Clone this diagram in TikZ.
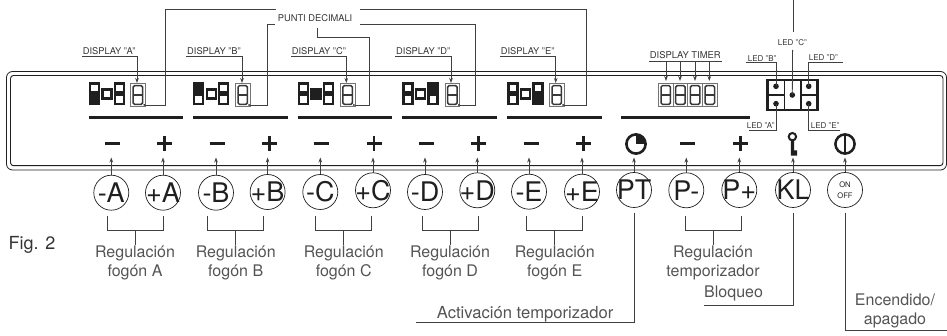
\documentclass[tikz,border=0pt]{standalone}
\usepackage{fontspec}
\setmainfont{TeX Gyre Heros}
\usetikzlibrary{arrows.meta}
\definecolor{ink}{gray}{0.12}
\definecolor{wire}{gray}{0.25}
\definecolor{soft}{gray}{0.33}
\newcommand{\fsz}[1]{\fontsize{#1}{#1}\selectfont}
\newcommand{\eightin}[1]{%
  \draw[black!78,line width=1.5pt,rounded corners=1.5pt] ([shift={(-4.7,-9.4)}]#1.center) rectangle ([shift={(4.7,9.4)}]#1.center);
  \draw[black!78,line width=1.5pt] ([shift={(-4.7,0)}]#1.center) -- ([shift={(4.7,0)}]#1.center);
}
\tikzset{
  x=1pt,y=-1pt,
  wirel/.style={draw=wire,line width=.8pt},
  arr/.style={wirel,-{Stealth[length=5pt,width=3.6pt]}},
  sqr/.style={draw=ink,line width=2.4pt,minimum size=9pt,inner sep=0pt,outer sep=0pt,fill=white},
  digitbox/.style={draw=black!55,line width=.8pt,minimum width=14.7pt,minimum height=23.4pt,inner sep=0pt,outer sep=0pt},
  bar/.style={draw=ink,line width=2.8pt},
  sym/.style={draw=ink,line width=2.6pt},
  btn/.style={circle,draw=ink,line width=.7pt,minimum size=35pt,inner sep=0pt,outer sep=0pt,text=ink,font=\fsz{27}},
  captext/.style={anchor=base,inner sep=0pt,text=soft,font=\fsz{16}},
  tinytext/.style={anchor=base west,inner sep=0pt,text=ink!90,font=\fsz{9.3}},
  ledt/.style={anchor=base west,inner sep=0pt,text=ink!90,font=\fsz{8}},
}
\begin{document}
\begin{tikzpicture}
\useasboundingbox (0,0) rectangle (947,336);
% panel
\draw[ink,line width=.8pt,rounded corners=6pt] (6.5,71.5) rectangle (946.5,170);
\draw[ink,line width=.9pt,rounded corners=3pt] (10.5,75.5) rectangle (943,165.7);
% display clusters
\foreach \n/\x/\fx/\fy/\lx/\ly/\dx/\ax in {
  A/88.5/5.7/99.3/82.7/137/130.5/137,
  B/193/5.7/88.1/187/242/235.3/242,
  C/297.7/18.3/94/291.7/346.3/340.2/346.3,
  D/402.3/30.7/88.1/396/451/445/451,
  E/507.3/30.7/99.3/500.7/555.7/549.3/555.7}{
  \node[sqr] (s1\n) at (\x+5.7,88.1) {};
  \node[sqr] (s2\n) at (\x+5.7,99.3) {};
  \node[sqr] (s3\n) at (\x+18.3,94) {};
  \node[sqr] (s4\n) at (\x+30.7,88.1) {};
  \node[sqr] (s5\n) at (\x+30.7,99.3) {};
  \node[sqr,fill=ink] (sf\n) at (\x+\fx,\x*0+\fy) {};
  \node[digitbox] (d\n) at (\dx+7.4,95) {};
  \eightin{d\n}
  \fill[ink] ([shift={(-1,-1.7)}]d\n.south east) circle (1pt);
  \draw[bar] (\x,117.5) -- (\x+94.5,117.5);
  \node[tinytext] (l\n) at (\lx,55) {DISPLAY "\n"};
  \coordinate (lw\n) at (\lx-.7,56.7);
  \coordinate (le\n) at (\ax,83);
  \draw[arr] (lw\n) -| (le\n);
}
\draw[bar] (621,117.5) -- (750,117.5);
% punti decimali
\node[tinytext] (punti) at (277.7,21.5) {PUNTI DECIMALI};
\coordinate (pa) at (275.7,9.7);
\coordinate (pb) at (275,24.7);
\coordinate (pc) at (317,28);
\coordinate (pd) at (360,24.7);
\coordinate (pe) at (360,9.7);
\draw[wirel] ([yshift=1.7pt]dA.south east) -| (165.3,9.7) -- (pa);
\draw[wirel] ([yshift=1.7pt]dB.south east) -| (267.7,24.7) -- (pb);
\draw[wirel] ([yshift=1.7pt]dC.south east) -| (369.3,37.7) -| (pc);
\draw[wirel] ([yshift=1.7pt]dD.south east) -| (475,24.7) -- (pd);
\draw[wirel] ([yshift=1.7pt]dE.south east) -| (586,9.7) -- (pe);
% timer display
\node[tinytext,font=\fsz{9.4}] (ltimer) at (649.7,59) {DISPLAY TIMER};
\draw[wirel] (649,61.3) -- (721.7,61.3);
\foreach \i/\x/\a in {1/665.7/666,2/680.4/680,3/695.1/695,4/709.8/709.3}{
  \node[digitbox] (t\i) at (\x,95) {};
  \eightin{t\i}
  \coordinate (tl\i) at (\a,61.3);
  \draw[arr] (tl\i) -- (\a,81);
}
% LED box
\node[draw=ink,line width=2.6pt,minimum width=50pt,minimum height=30pt,inner sep=0pt,outer sep=0pt] (ledbox) at (792.2,95.2) {};
\draw[ink,line width=1.1pt] (784.3,80) -- (784.3,110.5) (801,80) -- (801,110.5) (767,95) -- (784.3,95) (801,95) -- (817.5,95);
\foreach \n/\x/\y in {A/776/103.7,B/776/86.3,C/792.3/95,D/808.7/86.3,E/808.7/103.7}{
  \node[circle,fill=ink,minimum size=5.6pt,inner sep=0pt,outer sep=0pt] (led\n) at (\x,\y) {};
}
\coordinate (topc) at (793,0);
\coordinate (topcb) at (793,31.7);
\draw[wirel,line width=1pt] (topc) -- (topcb);
\node[ledt,anchor=base] (tC) at (792.3,46) {LED "C"};
\draw[wirel] (792.6,50) -- (ledC.center);
\node[ledt] (tB) at (747.7,61.5) {LED "B"};
\draw[wirel] (745.7,62.7) -| (ledB.center);
\node[ledt] (tD) at (808.7,60.7) {LED "D"};
\draw[wirel] (842.7,62.7) -| (ledD.center);
\node[ledt] (tA) at (746.7,128.5) {LED "A"};
\draw[wirel] (749,130.3) -| (ledA.center);
\node[ledt] (tE) at (810.7,128.5) {LED "E"};
\draw[wirel] (840,130.3) -| (ledE.center);
% minus and plus symbols
\foreach \x in {112,217,321,426.3,531,687.7}{\draw[sym] (\x-7.5,143.7) -- (\x+7.5,143.7);}
\foreach \x in {164.3,269.3,374,478.3,583.3,740.3}{\draw[sym] (\x-7.5,143.7) -- (\x+7.5,143.7) (\x,136.2) -- (\x,151.2);}
% timer icon
\draw[ink,line width=2.6pt] (636,144) circle (9.6pt);
\fill[ink] (636,144) -- (636,134) arc[start angle=90,end angle=0,radius=10pt] -- cycle;
% key icon
\draw[ink,line width=2pt] (792.4,136.7) circle (3.7pt);
\fill[ink] (790.8,140) rectangle (794.2,155.7) (794,150.5) rectangle (797.2,155.7);
% on off icon
\draw[ink,line width=2.5pt] (845,144) circle (9.6pt);
\draw[ink,line width=2.4pt] (845,134) -- (845,154);
% buttons
\foreach \n/\t/\x/\y in {mA/-A/111.3/192.7,pA/+A/163/192.7,mB/-B/216/192.7,pB/+B/267.6/192,mC/-C/320.3/192,pC/+C/373/190.3,mD/-D/425/192,pD/+D/477.3/190.3,mE/-E/529/191.7,pE/+E/582/191.7,PT/PT/634/190,Pm/P-/686.3/190.3,Pp/P+/739.3/190,KL/KL/793/190}{
  \node[btn] (b\n) at (\x,\y) {\makebox[0pt]{\t}};
  \coordinate (tip\n) at (\x,157.5);
  \draw[arr] (b\n.north) -- (tip\n);
}
\node[btn,font=\fsz{7.6},align=center] (bON) at (845,190) {ON\\[3pt]OFF};
\coordinate (tipON) at (845,157.5);
\draw[arr] (bON.north) -- (tipON);
% brackets
\foreach \n/\a/\b/\c/\la/\lb in {A/107/163/135/Regulación/fogón A,B/207.7/263.3/235.7/Regulación/fogón B,C/315.7/371.7/343.7/Regulación/fogón C,D/422.7/478/450/Regulación/fogón D,E/526.7/582.3/554.7/Regulación/fogón E,T/685.3/741/713/Regulación/temporizador}{
  \node[captext] (ra\n) at (\c,258) {\la};
  \node[captext] (rb\n) at (\c,277) {\lb};
  \draw[wirel,line width=.9pt] (\a,216) |- (\b,230.3) -- (\b,216);
  \draw[wirel,line width=.9pt] (\c,230.3) -- (\c,244.7);
}
% long leaders
\node[captext,anchor=base west,font=\fsz{16.6}] (act) at (436.7,319) {Activación temporizador};
\coordinate (actl) at (416,322.3);
\draw[wirel,line width=.9pt] (634,212.7) |- (actl);
\node[captext,anchor=base west] (blo) at (704,297.7) {Bloqueo};
\coordinate (blol) at (704,305.3);
\draw[wirel,line width=.9pt] (793,212.7) |- (blol);
\node[captext] (enc) at (895,305.7) {Encendido/};
\node[captext] (apa) at (895,325) {apagado};
\coordinate (encl) at (947,330.7);
\draw[wirel,line width=.9pt] (845,212.7) |- (encl);
% figure label
\node[anchor=base west,inner sep=0pt,text=ink!90,font=\fsz{18}] (fig) at (8.5,250) {Fig. 2};
\end{tikzpicture}
\end{document}
